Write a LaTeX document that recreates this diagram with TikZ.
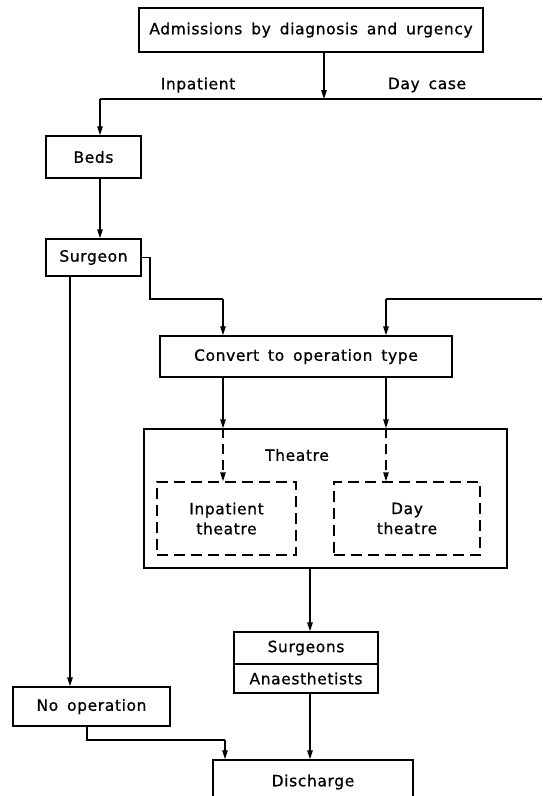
\documentclass[tikz,border=0pt]{standalone}
\usepackage{fontspec}
\setmainfont{DejaVu Sans}[LetterSpace=4,WordSpace=1.6,FakeBold=0.8]
\usetikzlibrary{arrows.meta}
\begin{document}
\begin{tikzpicture}[x=1pt,y=-1pt,
  every node/.style={font=\fontsize{15.5}{17}\selectfont, inner sep=0pt, align=center},
  box/.style={draw, line width=1.5pt},
  dbox/.style={draw, line width=1.5pt, dash pattern=on 11pt off 6pt},
  line/.style={line width=1.5pt},
  arr/.style={line width=1.5pt, -{Triangle[length=9pt,width=5.5pt]}},
  darr/.style={line width=1.5pt, dash pattern=on 10pt off 6pt, -{Triangle[length=9pt,width=5.5pt]}}]
\useasboundingbox (0,0) rectangle (542,796);
\clip (0,0) rectangle (542,796);
% nodes
\node[box, minimum width=344pt, minimum height=44pt] (adm) at (311,30) {Admissions by diagnosis and urgency};
\node (lin) at (198,85) {Inpatient};
\node (lday) at (427,85) {Day case};
\node[box, minimum width=95pt, minimum height=42pt] (beds) at (93.5,157) {Beds};
\node[box, minimum width=95pt, minimum height=37pt] (surg) at (93.5,257.5) {Surgeon};
\node[box, minimum width=292pt, minimum height=41pt] (conv) at (306,356.5) {Convert to operation type};
\node[box, minimum width=363pt, minimum height=139pt] (theat) at (325.5,498.5) {};
\node (theatlbl) at (297,455) {Theatre};
\node[dbox, minimum width=139pt, minimum height=73pt] (ipt) at (226.5,518.5) {Inpatient\\[3pt]theatre};
\node[dbox, minimum width=146pt, minimum height=73pt] (dt) at (407,518.5) {Day\\[3pt]theatre};
\node[box, minimum width=144pt, minimum height=32pt] (surgs) at (306,648) {Surgeons};
\node[box, minimum width=144pt, minimum height=29pt] (anaes) at (306,678.5) {Anaesthetists};
\node[box, minimum width=157pt, minimum height=39pt] (noop) at (91.5,706.5) {No operation};
\node[box, minimum width=200pt, minimum height=44pt] (dis) at (313,782) {Discharge};
% coordinates
\coordinate (split) at (324,99);
\coordinate (lc) at (100,99);
\coordinate (re) at (542,99);
\coordinate (s1) at (150,299);
\coordinate (s2) at (223,299);
\coordinate (r2) at (542,299);
\coordinate (r3) at (386,299);
\coordinate (n1) at (87,740);
\coordinate (n2) at (225,740);
% connectors
\draw[arr] (adm.south -| split) -- (split);
\draw[line] (lc) -- (re);
\draw[arr] (lc) -- (beds.north -| lc);
\draw[arr] (beds.south -| lc) -- (surg.north -| lc);
\draw[line] (surg.east) -| (s1) -- (s2);
\draw[arr] (s2) -- (conv.north -| s2);
\draw[line] (r2) -- (r3);
\draw[arr] (r3) -- (conv.north -| r3);
\draw[arr] (conv.south -| s2) -- (theat.north -| s2);
\draw[arr] (conv.south -| r3) -- (theat.north -| r3);
\draw[darr] (theat.north -| s2) -- (ipt.north -| s2);
\draw[darr] (theat.north -| r3) -- (dt.north -| r3);
\draw[arr] (theat.south -| surgs.south) ++(4,0) coordinate (t1) -- (surgs.north -| t1);
\draw[arr] (anaes.south -| t1) -- (dis.north -| t1);
\draw[arr] (surg.south -| 70,0) -- (noop.north -| 70,0);
\draw[line] (noop.south -| n1) -- (n1) -- (n2);
\draw[arr] (n2) -- (dis.north -| n2);
\end{tikzpicture}
\end{document}
